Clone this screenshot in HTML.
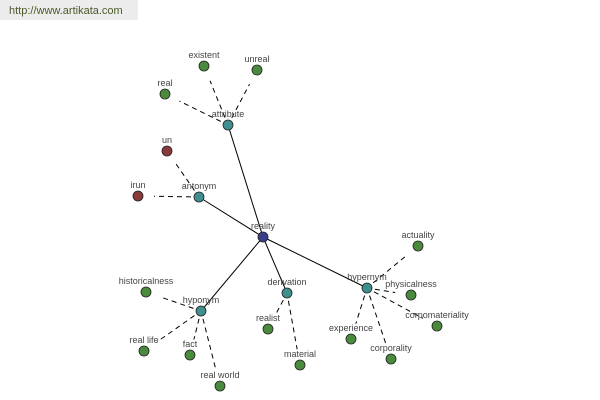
<!DOCTYPE html>
<html><head><meta charset="utf-8"><style>
html,body{margin:0;padding:0;background:#fff;width:600px;height:400px;overflow:hidden}
#hdr{position:absolute;left:0;top:0;width:138px;height:20px;background:#ececec;font:11px "Liberation Sans",sans-serif;color:#4a5a2a;line-height:22px;padding-left:9px;box-sizing:border-box}
svg{position:absolute;left:0;top:0}
text{font-family:"Liberation Sans",sans-serif;font-size:9px;fill:#444;text-anchor:middle}
</style></head><body>
<div id="hdr">http://www.artikata.com</div>
<svg id="s" width="600" height="400" xmlns="http://www.w3.org/2000/svg"></svg>
<script>
var N={
reality:[263,237,'#3a3f8a'],
attribute:[228,125,'#3f8f8f'],antonym:[199,197,'#3f8f8f'],hyponym:[201,311,'#3f8f8f'],derivation:[287,293,'#3f8f8f'],hypernym:[367,288,'#3f8f8f'],
existent:[204,66,'#4a8a3c'],unreal:[257,70,'#4a8a3c'],real:[165,94,'#4a8a3c'],
un:[167,151,'#8a3a3a'],'ir un':[138,196,'#8a3a3a'],
historicalness:[146,292,'#4a8a3c'],'real life':[144,351,'#4a8a3c'],fact:[190,355,'#4a8a3c'],'real world':[220,386,'#4a8a3c'],
realist:[268,329,'#4a8a3c'],material:[300,365,'#4a8a3c'],
actuality:[418,246,'#4a8a3c'],physicalness:[411,295,'#4a8a3c'],corpomateriality:[437,326,'#4a8a3c'],experience:[351,339,'#4a8a3c'],corporality:[391,359,'#4a8a3c']};
var solid=[['reality','attribute'],['reality','antonym'],['reality','hyponym'],['reality','derivation'],['reality','hypernym']];
var dash=[['attribute','existent'],['attribute','unreal'],['attribute','real'],['antonym','un'],['antonym','ir un'],
['hyponym','historicalness'],['hyponym','real life'],['hyponym','fact'],['hyponym','real world'],
['derivation','realist'],['derivation','material'],
['hypernym','actuality'],['hypernym','physicalness'],['hypernym','corpomateriality'],['hypernym','experience'],['hypernym','corporality']];
var h='';
solid.forEach(function(e){var a=N[e[0]],b=N[e[1]];h+='<line x1="'+a[0]+'" y1="'+a[1]+'" x2="'+b[0]+'" y2="'+b[1]+'" stroke="#000" stroke-width="1"/>';});
dash.forEach(function(e){var a=N[e[0]],b=N[e[1]];var dx=b[0]-a[0],dy=b[1]-a[1],L=Math.sqrt(dx*dx+dy*dy);
var s=8/L,t=(L-16)/L;h+='<line x1="'+(a[0]+dx*s)+'" y1="'+(a[1]+dy*s)+'" x2="'+(a[0]+dx*t)+'" y2="'+(a[1]+dy*t)+'" stroke="#000" stroke-width="1" stroke-dasharray="5,4"/>';});
for(var k in N){var p=N[k];h+='<circle cx="'+p[0]+'" cy="'+p[1]+'" r="5" fill="'+p[2]+'" stroke="#222" stroke-width="0.8"/>';
var lab=k==='ir un'?'irun':k;h+='<text x="'+p[0]+'" y="'+(p[1]-8)+'">'+lab+'</text>';}
document.getElementById('s').innerHTML=h;
</script>
</body></html>
